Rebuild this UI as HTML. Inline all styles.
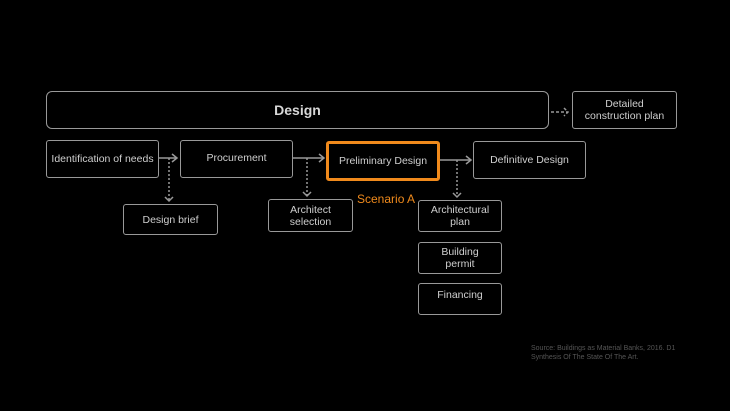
<!DOCTYPE html>
<html><head><style>
body{margin:0;background:#000;width:730px;height:411px;overflow:hidden;font-family:"Liberation Sans",sans-serif}
.b{position:absolute;border:1.5px solid #999;border-radius:3px;box-sizing:border-box;color:#cfcfcf;font-size:10.5px;display:flex;align-items:center;justify-content:center;text-align:center;line-height:12px}
</style></head><body>
<div class="b" style="left:46px;top:91px;width:503px;height:38px;border-radius:6px;font-size:14px;font-weight:bold;color:#d8d8d8">Design</div>
<div class="b" style="left:572px;top:91px;width:105px;height:38px">Detailed<br>construction plan</div>
<div class="b" style="left:46px;top:140px;width:113px;height:38px">Identification of needs</div>
<div class="b" style="left:180px;top:140px;width:113px;height:38px;padding-bottom:3px">Procurement</div>
<div class="b" style="left:326px;top:141px;width:114px;height:40px;border:3px solid #f08a1c">Preliminary Design</div>
<div class="b" style="left:473px;top:141px;width:113px;height:38px">Definitive Design</div>
<div class="b" style="left:123px;top:204px;width:95px;height:31px">Design brief</div>
<div class="b" style="left:268px;top:199px;width:85px;height:33px">Architect<br>selection</div>
<div class="b" style="left:418px;top:200px;width:84px;height:32px">Architectural<br>plan</div>
<div class="b" style="left:418px;top:242px;width:84px;height:32px">Building<br>permit</div>
<div class="b" style="left:418px;top:283px;width:84px;height:32px;align-items:flex-start;padding-top:5px">Financing</div>
<div style="position:absolute;left:357px;top:192px;color:#f08a1c;font-size:12px">Scenario A</div>
<div style="position:absolute;left:531px;top:344px;color:#555;font-size:7px;line-height:9px">Source: Buildings as Material Banks, 2016. D1<br>Synthesis Of The State Of The Art.</div>
<svg width="730" height="411" style="position:absolute;left:0;top:0" fill="none" stroke="#999" stroke-width="1.5">
<path d="M159 158H177M172 154l5 4-5 4M293 158H324M319 154l5 4-5 4M440 160H471M466 156l5 4-5 4"/>
<path d="M551 112H568M564 108l4 4-4 4" stroke-dasharray="3 2"/>
<path d="M169 158V201M307 158V196M457 160V197" stroke-dasharray="2 2"/>
<path d="M165 197l4 4 4-4M303 192l4 4 4-4M453 193l4 4 4-4"/>
</svg>
</body></html>
